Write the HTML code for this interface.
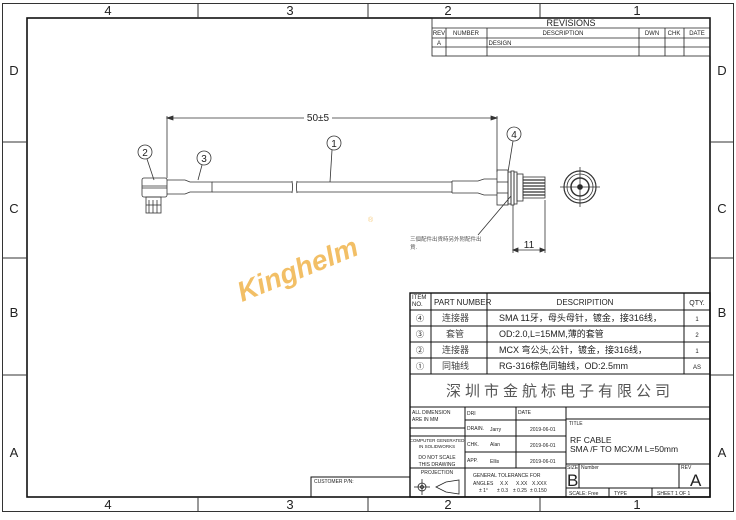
<!DOCTYPE html>
<html><head><meta charset="utf-8"><style>
body{margin:0;background:#fff}
svg text{font-family:"Liberation Sans","Noto Sans CJK SC",sans-serif;fill:#222}
</style></head><body>
<svg width="736" height="515" viewBox="0 0 736 515" xmlns="http://www.w3.org/2000/svg">
<rect x="0" y="0" width="736" height="515" fill="#fff"/>
<g fill="none" stroke="#333">
<rect x="2.5" y="3.5" width="731" height="508" stroke-width="1"/>
<rect x="27" y="18" width="683" height="479" stroke-width="1.6" stroke="#111"/>
<line x1="198" y1="3" x2="198" y2="18"/><line x1="368" y1="3" x2="368" y2="18"/><line x1="540" y1="3" x2="540" y2="18"/>
<line x1="198" y1="497" x2="198" y2="512"/><line x1="368" y1="497" x2="368" y2="512"/><line x1="540" y1="497" x2="540" y2="512"/>
<line x1="2" y1="142" x2="27" y2="142"/><line x1="2" y1="258" x2="27" y2="258"/><line x1="2" y1="375" x2="27" y2="375"/>
<line x1="710" y1="142" x2="734" y2="142"/><line x1="710" y1="258" x2="734" y2="258"/><line x1="710" y1="375" x2="734" y2="375"/>
</g>
<g font-size="13" text-anchor="middle">
<text x="108" y="15">4</text><text x="290" y="15">3</text><text x="448" y="15">2</text><text x="637" y="15">1</text>
<text x="108" y="509">4</text><text x="290" y="509">3</text><text x="448" y="509">2</text><text x="637" y="509">1</text>
<text x="14" y="75">D</text><text x="14" y="213">C</text><text x="14" y="317">B</text><text x="14" y="457">A</text>
<text x="722" y="75">D</text><text x="722" y="213">C</text><text x="722" y="317">B</text><text x="722" y="457">A</text>
</g>
<!-- revisions -->
<g fill="none" stroke="#222" stroke-width="0.8">
<rect x="432" y="18" width="278" height="38"/>
<line x1="432" y1="28" x2="710" y2="28"/><line x1="432" y1="38" x2="710" y2="38"/><line x1="432" y1="47" x2="710" y2="47"/>
<line x1="446" y1="28" x2="446" y2="56"/><line x1="487" y1="28" x2="487" y2="56"/><line x1="639" y1="28" x2="639" y2="56"/><line x1="665" y1="28" x2="665" y2="56"/><line x1="684" y1="28" x2="684" y2="56"/>
</g>
<g font-size="6" text-anchor="middle">
<text x="571" y="26" font-size="9">REVISIONS</text>
<text x="439" y="35">REV</text><text x="466" y="35">NUMBER</text><text x="563" y="35">DESCRIPTION</text><text x="652" y="35">DWN</text><text x="674" y="35">CHK</text><text x="697" y="35">DATE</text>
<text x="439" y="45">A</text><text x="500" y="45">DESIGN</text>
</g>
<!-- title block -->
<g fill="none" stroke="#111" stroke-width="1">
<rect x="410" y="293" width="300" height="204" stroke-width="1.4"/>
<line x1="410" y1="310" x2="710" y2="310"/><line x1="410" y1="326" x2="710" y2="326"/><line x1="410" y1="342" x2="710" y2="342"/><line x1="410" y1="358" x2="710" y2="358"/><line x1="410" y1="374" x2="710" y2="374"/>
<line x1="431" y1="293" x2="431" y2="374"/><line x1="487" y1="293" x2="487" y2="374"/><line x1="684" y1="293" x2="684" y2="374"/>
<line x1="410" y1="407" x2="710" y2="407"/>
<line x1="465" y1="407" x2="465" y2="497"/><line x1="516" y1="407" x2="516" y2="468"/><line x1="566" y1="407" x2="566" y2="497"/>
<line x1="465" y1="420" x2="566" y2="420"/><line x1="410" y1="436" x2="566" y2="436"/><line x1="465" y1="452" x2="566" y2="452"/><line x1="410" y1="468" x2="566" y2="468"/>
<line x1="410" y1="428" x2="465" y2="428"/>
<line x1="566" y1="419" x2="710" y2="419"/>
<line x1="566" y1="464" x2="710" y2="464"/><line x1="566" y1="488" x2="710" y2="488"/>
<line x1="579" y1="464" x2="579" y2="488"/><line x1="679" y1="464" x2="679" y2="488"/>
<line x1="609" y1="488" x2="609" y2="497"/><line x1="652" y1="488" x2="652" y2="497"/>
<rect x="311" y="477" width="99" height="20"/>
</g>
<g font-size="6">
<text x="412" y="299">ITEM</text><text x="412" y="306">NO.</text>
<text x="434" y="305" font-size="8">PART NUMBER</text>
<text x="585" y="305" font-size="8" text-anchor="middle">DESCRIPITION</text>
<text x="697" y="305" font-size="7" text-anchor="middle">QTY.</text>
<g font-size="8" text-anchor="middle"><text x="420" y="321">④</text><text x="420" y="337">③</text><text x="420" y="353">②</text><text x="420" y="369">①</text></g>
<g font-size="9"><text x="442" y="321" style="fill:#444">连接器</text><text x="446" y="337" style="fill:#444">套管</text><text x="442" y="353" style="fill:#444">连接器</text><text x="442" y="369" style="fill:#444">同轴线</text></g>
<g font-size="9"><text x="499" y="321">SMA 11牙，母头母针，镀金，接316线，</text><text x="499" y="337">OD:2.0,L=15MM,薄的套管</text><text x="499" y="353">MCX 弯公头,公针，镀金，接316线，</text><text x="499" y="369">RG-316棕色同轴线，OD:2.5mm</text></g>
<g font-size="6" text-anchor="middle"><text x="697" y="321">1</text><text x="697" y="337">2</text><text x="697" y="353">1</text><text x="697" y="369">AS</text></g>
<text x="560" y="396" font-size="15" text-anchor="middle" letter-spacing="4" style="fill:#555">深圳市金航标电子有限公司</text>
<text x="412" y="414" font-size="5">ALL DIMENSION</text><text x="412" y="421" font-size="5">ARE IN MM</text>
<text x="437" y="442" font-size="4.5" text-anchor="middle">COMPUTER GENERATED</text><text x="437" y="448" font-size="4.5" text-anchor="middle">IN SOLIDWORKS</text>
<text x="437" y="459" font-size="5" text-anchor="middle">DO NOT SCALE</text><text x="437" y="466" font-size="5" text-anchor="middle">THIS DRAWING</text>
<text x="437" y="474" font-size="5" text-anchor="middle">PROJECTION</text>
<text x="467" y="415" font-size="5">DRI</text><text x="518" y="414" font-size="5">DATE</text>
<text x="467" y="430" font-size="5">DRAIN.</text><text x="490" y="431" font-size="5">Jarry</text><text x="530" y="431" font-size="5">2019-06-01</text>
<text x="467" y="446" font-size="5">CHK.</text><text x="490" y="446" font-size="5">Alan</text><text x="530" y="447" font-size="5">2019-06-01</text>
<text x="467" y="462" font-size="5">APP.</text><text x="490" y="463" font-size="5">Ellis</text><text x="530" y="463" font-size="5">2019-06-01</text>
<text x="473" y="477" font-size="5">GENERAL TOLERANCE FOR</text>
<g font-size="5"><text x="473" y="485">ANGLES</text><text x="500" y="485">X.X</text><text x="516" y="485">X.XX</text><text x="532" y="485">X.XXX</text>
<text x="479" y="492">± 1°</text><text x="497" y="492">± 0.3</text><text x="513" y="492">± 0.25</text><text x="530" y="492">± 0.150</text></g>
<text x="569" y="425" font-size="5">TITLE</text>
<text x="570" y="443" font-size="8.5">RF CABLE</text>
<text x="570" y="452" font-size="8.5">SMA /F  TO MCX/M  L=50mm</text>
<text x="567" y="469" font-size="5">SIZE</text><text x="581" y="469" font-size="5">Number</text><text x="681" y="469" font-size="5">REV</text>
<text x="567" y="486" font-size="17">B</text><text x="690" y="486" font-size="17">A</text>
<text x="569" y="495" font-size="5">SCALE: Free</text><text x="614" y="495" font-size="5">TYPE</text><text x="657" y="495" font-size="5">SHEET  1   OF  1</text>
<text x="314" y="483" font-size="5">CUSTOMER P/N:</text>
</g>
<g fill="none" stroke="#222" stroke-width="0.8">
<circle cx="422" cy="487" r="4"/><circle cx="422" cy="487" r="1.5"/><line x1="414" y1="487" x2="430" y2="487"/><line x1="422" y1="479" x2="422" y2="495"/>
<path d="M436 487 L446 482 L459 480 L459 494 L446 492 Z"/>
</g>
<!-- watermark -->
<text x="242" y="302" font-size="28" font-weight="bold" font-style="italic" transform="rotate(-22 242 302)" style="fill:#f0b040;opacity:0.8">Kinghelm</text>
<text x="368" y="222" font-size="7" style="fill:#f2b64a;opacity:0.7">®</text>
<!-- drawing -->
<g fill="none" stroke="#333" stroke-width="0.8">
<line x1="167" y1="118" x2="497" y2="118"/><path d="M167 118 l6 -2 v4 z M497 118 l-6 -2 v4 z" fill="#333"/>
<line x1="167" y1="116" x2="167" y2="178"/><line x1="497" y1="116" x2="497" y2="172"/>
<path d="M212 182 H292 M212 192 H292 M297 182 H452 M297 192 H452"/>
<path d="M292 181 q1 6 0 12 M297 181 q-1 6 0 12"/>
<rect x="142" y="178" width="25" height="19" rx="2"/><line x1="142" y1="186" x2="167" y2="186"/><line x1="142" y1="188" x2="167" y2="188"/>
<rect x="146" y="197" width="15" height="16"/><line x1="149" y1="200" x2="149" y2="213"/><line x1="153" y1="200" x2="153" y2="213"/><line x1="157" y1="200" x2="157" y2="213"/><line x1="146" y1="205" x2="161" y2="205"/>
<path d="M167 180 H185 L190 182 H212 V192 H190 L185 194 H167"/>
<path d="M452 181 V193 M452 181 H478 L484 179 H497 M452 193 H478 L484 195 H497"/>
<rect x="497" y="170" width="11" height="35"/><line x1="497" y1="182" x2="508" y2="182"/><line x1="497" y1="193" x2="508" y2="193"/>
<rect x="508" y="172" width="3" height="32"/><rect x="511" y="171" width="3" height="34"/><rect x="514" y="172" width="3" height="32"/>
<rect x="517" y="174" width="6" height="27"/>
<rect x="523" y="177" width="22" height="21"/>
<path d="M523 180 h22 M523 183 h22 M523 186 h22 M523 189 h22 M523 192 h22 M523 195 h22" stroke-width="1.3"/>
<circle cx="580" cy="187" r="16" stroke-width="1.2"/><circle cx="580" cy="187" r="13"/><circle cx="580" cy="187" r="9" stroke-width="1.5"/>
<circle cx="580" cy="187" r="2.5" fill="#222"/>
<line x1="560" y1="187" x2="600" y2="187"/><line x1="580" y1="167" x2="580" y2="207"/>
<line x1="513" y1="205" x2="513" y2="253"/><line x1="545" y1="200" x2="545" y2="253"/>
<line x1="513" y1="250" x2="545" y2="250"/><path d="M513 250 l5 -2 v4 z M545 250 l-5 -2 v4 z" fill="#333"/>
<line x1="478" y1="235" x2="511" y2="196"/>
<circle cx="145" cy="152" r="7"/><line x1="147" y1="159" x2="154" y2="180"/>
<circle cx="204" cy="158" r="7"/><line x1="202" y1="165" x2="198" y2="180"/>
<circle cx="334" cy="143" r="7"/><line x1="332" y1="150" x2="330" y2="182"/>
<circle cx="514" cy="134" r="7"/><line x1="513" y1="141" x2="508" y2="172"/>
</g>
<rect x="304" y="111" width="28" height="10" fill="#fff"/>
<text x="318" y="121" font-size="10" text-anchor="middle">50±5</text>
<g font-size="10" text-anchor="middle"><text x="145" y="156">2</text><text x="204" y="162">3</text><text x="334" y="147">1</text><text x="514" y="138">4</text></g>
<text x="529" y="248" font-size="10" text-anchor="middle">11</text>
<text x="410" y="241" font-size="5.5" style="fill:#555">三個配件出貨時另外附配件出</text>
<text x="410" y="249" font-size="5.5" style="fill:#555">貨.</text>
</svg>
</body></html>
